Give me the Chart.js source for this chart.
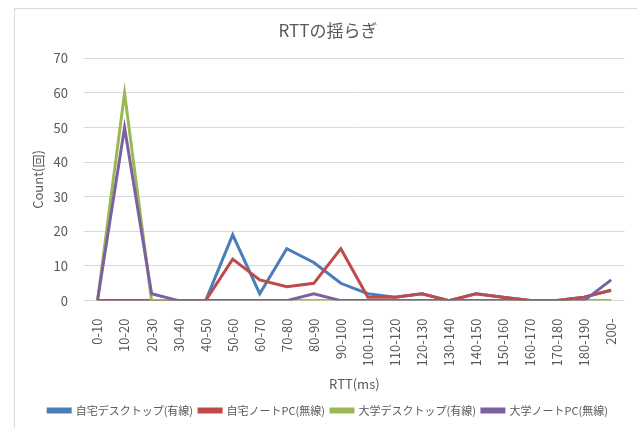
<!DOCTYPE html>
<html><head><meta charset="utf-8">
<script src="https://cdn.jsdelivr.net/npm/chart.js@4/dist/chart.umd.min.js"></script>
<style>
html,body{margin:0;padding:0;background:#fff;overflow:hidden;}
#wrap{position:absolute;left:0;top:0;width:637px;height:428px;}
#frame{position:absolute;left:14px;top:8px;width:700px;height:500px;border-left:1px solid #d9d9d9;border-top:1px solid #d9d9d9;pointer-events:none;}
</style></head>
<body>
<div id="wrap"><canvas id="c" width="637" height="428"></canvas></div>
<div id="frame"></div>
<script>
const categories = ["0-10","10-20","20-30","30-40","40-50","50-60","60-70","70-80","80-90","90-100","100-110","110-120","120-130","130-140","140-150","150-160","160-170","170-180","180-190","200-"];
const homeDesktop = [0,0,0,0,0,19,2,15,11,5,2,1,2,0,2,1,0,0,1,3];
const homeNotePC  = [0,0,0,0,0,12,6,4,5,15,1,1,2,0,2,1,0,0,1,3];
const uniDesktop  = [0,60,0,0,0,0,0,0,0,0,0,0,0,0,0,0,0,0,0,0];
const uniNotePC   = [0,50,2,0,0,0,0,0,2,0,0,0,0,0,0,0,0,0,0,6];
const seriesNames = ["自宅デスクトップ(有線)","自宅ノートPC(無線)","大学デスクトップ(有線)","大学ノートPC(無線)"];
const yTicks = [0,10,20,30,40,50,60,70];

const colors = ["#4A7EBB","#BE4B48","#98B954","#7D60A0"];
const font = "'Noto Sans CJK JP','Noto Sans',sans-serif";
const mk = (i,d)=>({label:seriesNames[i],data:d,borderColor:colors[i],backgroundColor:colors[i],borderWidth:3,pointRadius:0,tension:0,fill:false,order:4-i});

new Chart(document.getElementById('c'),{
  type:'line',
  data:{labels:categories,datasets:[mk(0,homeDesktop),mk(1,homeNotePC),mk(2,uniDesktop),mk(3,uniNotePC)]},
  options:{
    responsive:false,animation:false,
    layout:{padding:{left:28,right:9,top:6,bottom:2}},
    plugins:{
      title:{display:true,text:"RTTの揺らぎ",color:"#595959",font:{family:font,size:17,weight:'normal'},padding:{top:14,bottom:18}},
      legend:{position:'bottom',labels:{color:"#595959",font:{family:font,size:11},boxWidth:22,boxHeight:3,padding:6,sort:(a,b)=>a.datasetIndex-b.datasetIndex}},
      tooltip:{enabled:false}
    },
    scales:{
      x:{offset:true,
        grid:{display:false},
        border:{display:false},
        ticks:{color:"#595959",font:{family:font,size:13},minRotation:90,maxRotation:90,autoSkip:false,padding:10},
        title:{display:true,text:"RTT(ms)",color:"#595959",font:{family:font,size:13},padding:{top:0,bottom:7}}
      },
      y:{min:0,max:70,
        afterBuildTicks:(s)=>{s.ticks=yTicks.map(v=>({value:v}));},
        afterFit:(s)=>{s.width=56;},
        grid:{color:"#d9d9d9",lineWidth:1,drawTicks:false},
        border:{display:false},
        ticks:{color:"#595959",font:{family:font,size:13},padding:16},
        title:{display:true,text:"Count(回)",color:"#595959",font:{family:font,size:13},padding:{top:2,bottom:0}}
      }
    }
  }
});
</script>
</body></html>
